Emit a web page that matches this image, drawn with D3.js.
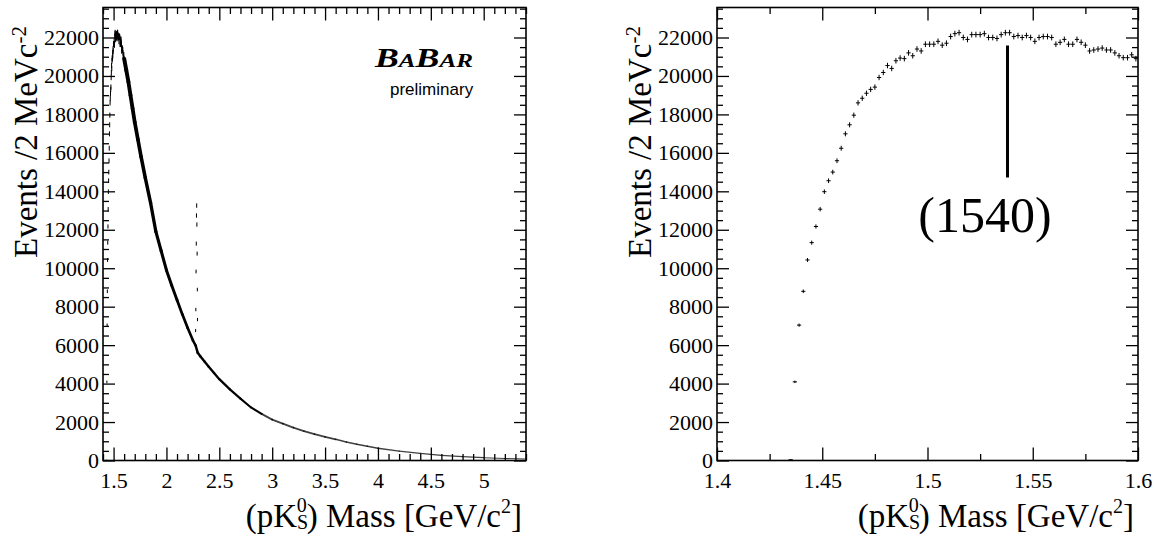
<!DOCTYPE html>
<html>
<head>
<meta charset="utf-8">
<script src="https://cdn.jsdelivr.net/npm/d3@7"></script>
<style>
  html, body { margin: 0; padding: 0; background: #fff; }
  svg { display: block; }
</style>
</head>
<body>
<svg id="chart" width="1154" height="544"></svg>
<script>
// ---- Data: (p K0s) invariant mass, 2 MeV bins ----

// Fine bins (bin centres, GeV/c^2) and counts, 1.4 - 1.6 GeV/c^2
const fineMass = [
  1.435, 1.437, 1.439, 1.441, 1.443, 1.445, 1.447, 1.449, 1.451, 1.453,
  1.455, 1.457, 1.459, 1.461, 1.463, 1.465, 1.467, 1.469, 1.471, 1.473,
  1.475, 1.477, 1.479, 1.481, 1.483, 1.485, 1.487, 1.489, 1.491, 1.493,
  1.495, 1.497, 1.499, 1.501, 1.503, 1.505, 1.507, 1.509, 1.511, 1.513,
  1.515, 1.517, 1.519, 1.521, 1.523, 1.525, 1.527, 1.529, 1.531, 1.533,
  1.535, 1.537, 1.539, 1.541, 1.543, 1.545, 1.547, 1.549, 1.551, 1.553,
  1.555, 1.557, 1.559, 1.561, 1.563, 1.565, 1.567, 1.569, 1.571, 1.573,
  1.575, 1.577, 1.579, 1.581, 1.583, 1.585, 1.587, 1.589, 1.591, 1.593,
  1.595, 1.597, 1.599
];
const fineCounts = [
  40, 4090, 7040, 8800, 10430, 11330, 12170, 13070, 13980, 14550,
  15000, 15590, 16240, 16990, 17460, 17960, 18600, 18840, 19100, 19300,
  19420, 19920, 20180, 20540, 20390, 20790, 20930, 20900, 21200, 21050,
  21400, 21300, 21650, 21650, 21650, 21800, 21600, 21700, 22050, 22200,
  22250, 22000, 21900, 22150, 22150, 22150, 22200, 22000, 22000, 21950,
  22150, 22250, 22250, 22050, 22100, 22000, 22100, 22000, 21800, 22000,
  22050, 22050, 22000, 21650, 21750, 21900, 21650, 21650, 21900, 21750,
  21600, 21300, 21350, 21400, 21450, 21350, 21350, 21200, 21050, 20950,
  20950, 21100, 20900
];

// Continuum above 1.6 GeV/c^2 (read at selected masses)
const tailMass = [
  1.60, 1.62, 1.64, 1.66, 1.68, 1.70, 1.73, 1.76, 1.80, 1.85,
  1.90, 1.95, 2.00, 2.05, 2.10, 2.15, 2.20, 2.25, 2.276, 2.296,
  2.32, 2.36, 2.40, 2.45, 2.50, 2.60, 2.70, 2.80, 2.90, 3.00,
  3.10, 3.20, 3.30, 3.40, 3.50, 3.60, 3.70, 3.80, 3.90, 4.00,
  4.20, 4.40, 4.60, 4.80, 5.00, 5.20, 5.40
];
const tailCounts = [
  20900, 20300, 19700, 19000, 18300, 17600, 16700, 15800, 14700, 13400,
  11900, 10900, 9900, 9100, 8350, 7600, 6900, 6250, 5980, 5600,
  5420, 5150, 4880, 4550, 4230, 3700, 3220, 2760, 2420, 2130,
  1920, 1710, 1530, 1370, 1230, 1100, 960, 850, 740, 640,
  490, 370, 270, 200, 145, 105, 80
];

// Lambda_c+ signal bins
const lcMass   = [2.276, 2.278, 2.280, 2.282, 2.284, 2.286, 2.288, 2.290, 2.292, 2.294];
const lcCounts = [6760, 7850, 9830, 11280, 12740, 13260, 12270, 10760, 8890, 7330];

// Axis ticks
const yMajorTicks = [0, 2000, 4000, 6000, 8000, 10000, 12000, 14000, 16000, 18000, 20000, 22000];
const xMajorWide  = [1.5, 2, 2.5, 3, 3.5, 4, 4.5, 5];
const xMajorZoom  = [1.4, 1.45, 1.5, 1.55, 1.6];
const xMinorZoom  = [1.425, 1.475, 1.525, 1.575];

// Marker for the narrow-state search window
const markMass = 1.538;
const markRange = [14719, 21584];
const markLabel = "(1540)";

// ---- Drawing ----
const svg = d3.select("#chart");
const SERIF = "'Liberation Serif','Times New Roman',Times,serif";
const SANS = "'Liberation Sans',Arial,Helvetica,sans-serif";
const Y_MAX = 23560;

function drawPanel(cfg) {
  const x = d3.scaleLinear().domain(cfg.xDomain).range([cfg.left, cfg.right]);
  const y = d3.scaleLinear().domain([0, Y_MAX]).range([cfg.bottom, cfg.top]);
  const g = svg.append("g");

  const clipId = "clip-" + cfg.id;
  svg.append("clipPath").attr("id", clipId)
    .append("rect")
    .attr("x", cfg.left).attr("y", cfg.top)
    .attr("width", cfg.right - cfg.left).attr("height", cfg.bottom - cfg.top);

  const plot = g.append("g").attr("clip-path", `url(#${clipId})`);

  // axes: ticks on all four sides, pointing inwards
  const addAxis = (axisFn, scale, values, size, transform, withLabels) => {
    const a = axisFn(scale).tickValues(values).tickSizeInner(-size).tickSizeOuter(0)
      .tickFormat(withLabels ? (d => String(d)) : "");
    const ag = g.append("g").attr("transform", transform).call(a);
    ag.select(".domain").remove();
    ag.selectAll("line").attr("stroke", "#000").attr("stroke-width", 1.3);
    if (!withLabels) ag.selectAll("text").remove();
    return ag;
  };

  const yMinor = d3.range(500, Y_MAX, 500).filter(v => v % 2000 !== 0);
  const xMinor = cfg.xMinor;

  const bx = addAxis(d3.axisBottom, x, cfg.xMajor, 13, `translate(0,${cfg.bottom})`, true);
  addAxis(d3.axisBottom, x, xMinor, 6.5, `translate(0,${cfg.bottom})`, false);
  addAxis(d3.axisTop, x, cfg.xMajor, 13, `translate(0,${cfg.top})`, false);
  addAxis(d3.axisTop, x, xMinor, 6.5, `translate(0,${cfg.top})`, false);
  const ly = addAxis(d3.axisLeft, y, yMajorTicks, 12, `translate(${cfg.left},0)`, true);
  addAxis(d3.axisLeft, y, yMinor, 6, `translate(${cfg.left},0)`, false);
  addAxis(d3.axisRight, y, yMajorTicks, 12, `translate(${cfg.right},0)`, false);
  addAxis(d3.axisRight, y, yMinor, 6, `translate(${cfg.right},0)`, false);

  bx.selectAll("text")
    .attr("y", 27.5).attr("dy", null)
    .attr("font-family", SERIF).attr("font-size", 22).attr("fill", "#000");
  ly.selectAll("text")
    .attr("x", -4).attr("dy", "0.32em")
    .attr("font-family", SERIF).attr("font-size", 22).attr("fill", "#000");

  // frame
  g.append("rect")
    .attr("x", cfg.left).attr("y", cfg.top)
    .attr("width", cfg.right - cfg.left).attr("height", cfg.bottom - cfg.top)
    .attr("fill", "none").attr("stroke", "#000").attr("stroke-width", 1.6);

  // axis titles
  const xt = g.append("text")
    .attr("transform", `translate(${cfg.right - 4},527)`)
    .attr("text-anchor", "end")
    .attr("font-family", SERIF).attr("font-size", 33).attr("fill", "#000");
  xt.append("tspan").text("(pK");
  xt.append("tspan").attr("font-size", 20).attr("dy", 2).text("S");
  xt.append("tspan").attr("font-size", 20).attr("dx", -11.5).attr("dy", -17).text("0");
  xt.append("tspan").attr("dy", 15).text(") Mass [GeV/c");
  xt.append("tspan").attr("font-size", 20).attr("dy", -14).text("2");
  xt.append("tspan").attr("dy", 14).text("]");

  const yt = g.append("text")
    .attr("transform", `translate(${cfg.left - 66},26) rotate(-90)`)
    .attr("text-anchor", "end")
    .attr("font-family", SERIF).attr("font-size", 33).attr("fill", "#000");
  yt.append("tspan").text("Events /2 MeVc");
  yt.append("tspan").attr("font-size", 21).attr("dy", -11).text("-2");

  return { g, plot, x, y };
}

// Histogram bins drawn as error crosses: bin width horizontally, +-sqrt(N) vertically
function drawBins(p, mass, counts) {
  const bins = mass.map((m, i) => ({ m, n: counts[i] }));
  const gb = p.plot.append("g").attr("stroke", "#000").attr("stroke-width", 1);
  gb.selectAll("line.h").data(bins).enter().append("line").attr("class", "h")
    .attr("x1", d => p.x(d.m - 0.001)).attr("x2", d => p.x(d.m + 0.001))
    .attr("y1", d => p.y(d.n)).attr("y2", d => p.y(d.n));
  gb.selectAll("line.v").data(bins).enter().append("line").attr("class", "v")
    .attr("x1", d => p.x(d.m)).attr("x2", d => p.x(d.m))
    .attr("y1", d => p.y(d.n - Math.sqrt(d.n))).attr("y2", d => p.y(d.n + Math.sqrt(d.n)));
}

// ---- Left panel: full mass range ----
const left = drawPanel({
  id: "wide", left: 103, right: 526, top: 7.5, bottom: 460.5,
  xDomain: [1.4, 5.4], xMajor: xMajorWide,
  xMinor: d3.range(14, 55).map(v => v / 10).filter(v => Math.abs(v * 2 - Math.round(v * 2)) > 1e-6)
});

// dense continuum: band whose thickness follows the statistical spread
const tail = tailMass.map((m, i) => ({ m, n: tailCounts[i] }));
const tg = left.plot.append("g").attr("stroke", "#000").attr("stroke-linecap", "round");
tg.selectAll("line").data(d3.pairs(tail)).enter().append("line")
  .attr("x1", d => left.x(d[0].m)).attr("y1", d => left.y(d[0].n))
  .attr("x2", d => left.x(d[1].m)).attr("y2", d => left.y(d[1].n))
  .attr("stroke-width", d => 0.9 + 3.2 * Math.sqrt((d[0].n + d[1].n) / 2 / 22300))
  .attr("stroke-opacity", d => d[0].n < 2500 ? 0.75 : 1);

drawBins(left, fineMass, fineCounts);
drawBins(left, lcMass, lcCounts);

// experiment logo
const logo = left.g.append("text")
  .attr("x", 375).attr("y", 67)
  .attr("font-family", SERIF).attr("font-weight", "bold").attr("font-style", "italic")
  .attr("fill", "#000")
  .attr("textLength", 98).attr("lengthAdjust", "spacingAndGlyphs");
logo.append("tspan").attr("font-size", 27).text("B");
logo.append("tspan").attr("font-size", 19).text("A");
logo.append("tspan").attr("font-size", 27).text("B");
logo.append("tspan").attr("font-size", 19).text("AR");
left.g.append("text")
  .attr("x", 390).attr("y", 95)
  .attr("font-family", SANS).attr("font-size", 17).attr("fill", "#000")
  .text("preliminary");

// ---- Right panel: threshold region ----
const right = drawPanel({
  id: "zoom", left: 717, right: 1138, top: 7.5, bottom: 460.5,
  xDomain: [1.4, 1.6], xMajor: xMajorZoom, xMinor: xMinorZoom
});
drawBins(right, fineMass, fineCounts);

right.g.append("line")
  .attr("x1", right.x(markMass)).attr("x2", right.x(markMass))
  .attr("y1", right.y(markRange[0])).attr("y2", right.y(markRange[1]))
  .attr("stroke", "#000").attr("stroke-width", 3);
right.g.append("text")
  .attr("x", 985).attr("y", 232)
  .attr("text-anchor", "middle")
  .attr("font-family", SERIF).attr("font-size", 50).attr("fill", "#000")
  .text(markLabel);
</script>
</body>
</html>
